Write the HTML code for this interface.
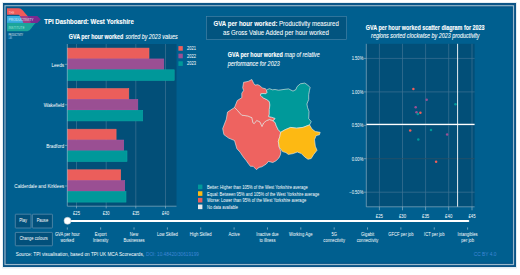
<!DOCTYPE html>
<html><head><meta charset="utf-8"><title>TPI Dashboard: West Yorkshire</title>
<style>
html,body{margin:0;padding:0;background:#ffffff;width:520px;height:275px;overflow:hidden}
svg{position:absolute;left:0;top:0;display:block}
text{font-family:"Liberation Sans", sans-serif}
</style></head><body>
<svg width="520" height="275" viewBox="0 0 520 275">
<rect x="2" y="2" width="515" height="266.5" fill="#e6eef3"/>
<rect x="3" y="3" width="513" height="264" fill="#0b5486"/>
<rect x="6" y="6" width="507" height="258" fill="#005f8f"/>
<rect x="5" y="5.75" width="508.5" height="258.75" fill="none" stroke="#9bb9cc" stroke-width="1.2"/>
<rect x="6.4" y="7.2" width="505.7" height="255.9" fill="none" stroke="#0b5486" stroke-width="0.9"/>
<path d="M7,8.3 H18.3 C21.3,8.3 22.8,10.2 24.3,12.2 L27.6,16 H20 C19.4,15.2 18.8,14.8 17.8,14.8 H7 Z" fill="#ef5a5a"/>
<rect x="7" y="16" width="18" height="6.9" fill="#3aaee0"/>
<path d="M20,16 H37.3 L40.8,19.45 L37.3,22.9 H23.8 Z" fill="#7b2a90"/>
<path d="M20,16 H27.6 L31,22.9 H23.8 Z" fill="#a23e86"/>
<path d="M7,23.1 H35.8 C32.5,25.5 30.5,31.2 27.3,31.2 H7 Z" fill="#1ba59b"/>
<text x="8.8" y="13.5" font-size="4.4" fill="#fcc8c0" textLength="5.6" lengthAdjust="spacingAndGlyphs" >THE</text>
<text x="8.5" y="21.1" font-size="4.3" fill="#d8eefa" textLength="25" lengthAdjust="spacingAndGlyphs" >PRODUCTIVITY</text>
<text x="8.5" y="29.2" font-size="4.3" fill="#9ce2d4" textLength="16.1" lengthAdjust="spacingAndGlyphs" >INSTITUTE</text>
<text x="8.5" y="35.9" font-size="3.0" fill="#e8eef2" textLength="14.6" lengthAdjust="spacingAndGlyphs" >PRODUCTIVITY</text>
<text x="8.5" y="39.0" font-size="2.6" fill="#8cc4ea" textLength="3.6" lengthAdjust="spacingAndGlyphs" >LAB</text>
<text x="44.3" y="23.6" font-size="7.1" font-weight="bold" fill="#ffffff" textLength="89.5" lengthAdjust="spacingAndGlyphs" stroke="#ffffff" stroke-width="0.12" >TPI Dashboard: West Yorkshire</text>
<rect x="206.5" y="16.5" width="140" height="23" fill="#02547f" stroke="#4f88aa" stroke-width="0.6"/>
<text x="213.5" y="25.8" font-size="6.9" font-weight="bold" fill="#ffffff" textLength="64" lengthAdjust="spacingAndGlyphs" stroke="#ffffff" stroke-width="0.06" >GVA per hour worked:</text>
<text x="279" y="25.8" font-size="6.9" fill="#ffffff" textLength="59.8" lengthAdjust="spacingAndGlyphs" stroke="#ffffff" stroke-width="0.06" >Productivity measured</text>
<text x="223" y="34.8" font-size="6.9" fill="#ffffff" textLength="105.8" lengthAdjust="spacingAndGlyphs" stroke="#ffffff" stroke-width="0.06" >as Gross Value Added per hour worked</text>
<text x="68.8" y="39.4" font-size="6.8" font-weight="bold" fill="#ffffff" textLength="54.5" lengthAdjust="spacingAndGlyphs" stroke="#ffffff" stroke-width="0.12" >GVA per hour worked</text>
<text x="125.4" y="39.4" font-size="6.6" font-style="italic" fill="#ffffff" textLength="52.3" lengthAdjust="spacingAndGlyphs" stroke="#ffffff" stroke-width="0.08" >sorted by 2023 values</text>
<rect x="67.3" y="44" width="109.2" height="162.2" fill="#024f78"/>
<line x1="76.5" y1="44" x2="76.5" y2="206.2" stroke="#3f7393" stroke-width="0.7"/>
<line x1="106.2" y1="44" x2="106.2" y2="206.2" stroke="#3f7393" stroke-width="0.7"/>
<line x1="135.8" y1="44" x2="135.8" y2="206.2" stroke="#3f7393" stroke-width="0.7"/>
<line x1="165.5" y1="44" x2="165.5" y2="206.2" stroke="#3f7393" stroke-width="0.7"/>
<rect x="67.3" y="48.10" width="81.70" height="10.6" fill="#eb5e5b" stroke="#f66a64" stroke-width="0.6"/>
<rect x="67.3" y="58.95" width="96.50" height="10.6" fill="#9a4f93" stroke="#ac56a2" stroke-width="0.6"/>
<rect x="67.3" y="69.80" width="106.90" height="10.6" fill="#00989a" stroke="#08a6a4" stroke-width="0.6"/>
<line x1="64.8" y1="64.3" x2="67.3" y2="64.3" stroke="#9fbccd" stroke-width="0.6"/>
<text x="64.2" y="66.7" font-size="5.31" text-anchor="end" fill="#ffffff" textLength="12.81" lengthAdjust="spacingAndGlyphs" >Leeds</text>
<rect x="67.3" y="88.60" width="61.50" height="10.6" fill="#eb5e5b" stroke="#f66a64" stroke-width="0.6"/>
<rect x="67.3" y="99.45" width="70.50" height="10.6" fill="#9a4f93" stroke="#ac56a2" stroke-width="0.6"/>
<rect x="67.3" y="110.30" width="75.40" height="10.6" fill="#00989a" stroke="#08a6a4" stroke-width="0.6"/>
<line x1="64.8" y1="104.8" x2="67.3" y2="104.8" stroke="#9fbccd" stroke-width="0.6"/>
<text x="64.2" y="107.2" font-size="5.31" text-anchor="end" fill="#ffffff" textLength="20.46" lengthAdjust="spacingAndGlyphs" >Wakefield</text>
<rect x="67.3" y="129.20" width="48.80" height="10.6" fill="#eb5e5b" stroke="#f66a64" stroke-width="0.6"/>
<rect x="67.3" y="140.05" width="56.40" height="10.6" fill="#9a4f93" stroke="#ac56a2" stroke-width="0.6"/>
<rect x="67.3" y="150.90" width="59.70" height="10.6" fill="#00989a" stroke="#08a6a4" stroke-width="0.6"/>
<line x1="64.8" y1="145.4" x2="67.3" y2="145.4" stroke="#9fbccd" stroke-width="0.6"/>
<text x="64.2" y="147.8" font-size="5.31" text-anchor="end" fill="#ffffff" textLength="18.03" lengthAdjust="spacingAndGlyphs" >Bradford</text>
<rect x="67.3" y="169.80" width="53.40" height="10.6" fill="#eb5e5b" stroke="#f66a64" stroke-width="0.6"/>
<rect x="67.3" y="180.65" width="57.40" height="10.6" fill="#9a4f93" stroke="#ac56a2" stroke-width="0.6"/>
<rect x="67.3" y="191.50" width="58.70" height="10.6" fill="#00989a" stroke="#08a6a4" stroke-width="0.6"/>
<line x1="64.8" y1="186.0" x2="67.3" y2="186.0" stroke="#9fbccd" stroke-width="0.6"/>
<text x="64.2" y="188.4" font-size="5.31" text-anchor="end" fill="#ffffff" textLength="49.9" lengthAdjust="spacingAndGlyphs" >Calderdale and Kirklees</text>
<line x1="67.3" y1="44" x2="67.3" y2="206.2" stroke="#9fbccd" stroke-width="0.6"/>
<line x1="67.3" y1="206.2" x2="176.5" y2="206.2" stroke="#9fbccd" stroke-width="0.6"/>
<line x1="76.5" y1="206.2" x2="76.5" y2="208.39999999999998" stroke="#9fbccd" stroke-width="0.6"/>
<text x="76.5" y="214.6" font-size="4.63" text-anchor="middle" fill="#ffffff" textLength="6.84" lengthAdjust="spacingAndGlyphs" >£25</text>
<line x1="106.2" y1="206.2" x2="106.2" y2="208.39999999999998" stroke="#9fbccd" stroke-width="0.6"/>
<text x="106.2" y="214.6" font-size="4.63" text-anchor="middle" fill="#ffffff" textLength="6.84" lengthAdjust="spacingAndGlyphs" >£30</text>
<line x1="135.8" y1="206.2" x2="135.8" y2="208.39999999999998" stroke="#9fbccd" stroke-width="0.6"/>
<text x="135.8" y="214.6" font-size="4.63" text-anchor="middle" fill="#ffffff" textLength="6.84" lengthAdjust="spacingAndGlyphs" >£35</text>
<line x1="165.5" y1="206.2" x2="165.5" y2="208.39999999999998" stroke="#9fbccd" stroke-width="0.6"/>
<text x="165.5" y="214.6" font-size="4.63" text-anchor="middle" fill="#ffffff" textLength="6.84" lengthAdjust="spacingAndGlyphs" >£40</text>
<rect x="178.4" y="46.1" width="4.4" height="4.6" fill="#ee5f5b"/>
<text x="187" y="50.0" font-size="4.75" fill="#ffffff" textLength="9" lengthAdjust="spacingAndGlyphs" >2021</text>
<rect x="178.4" y="53.7" width="4.4" height="4.6" fill="#9b5094"/>
<text x="187" y="57.6" font-size="4.75" fill="#ffffff" textLength="9" lengthAdjust="spacingAndGlyphs" >2022</text>
<rect x="178.4" y="61.3" width="4.4" height="4.6" fill="#00999a"/>
<text x="187" y="65.2" font-size="4.75" fill="#ffffff" textLength="9" lengthAdjust="spacingAndGlyphs" >2023</text>
<text x="227.8" y="57.3" font-size="6.7" font-weight="bold" fill="#ffffff" textLength="55" lengthAdjust="spacingAndGlyphs" stroke="#ffffff" stroke-width="0.12" >GVA per hour worked</text>
<text x="284.5" y="57.3" font-size="6.6" font-style="italic" fill="#ffffff" textLength="35.3" lengthAdjust="spacingAndGlyphs" stroke="#ffffff" stroke-width="0.08" >map of relative</text>
<text x="227.8" y="66.1" font-size="6.6" font-style="italic" fill="#ffffff" textLength="51.9" lengthAdjust="spacingAndGlyphs" stroke="#ffffff" stroke-width="0.08" >performance for 2023</text>
<polygon points="234.5,107.5 237.5,110.5 241.8,115.2 247.6,115.9 252,117.7 252.8,122.5 254.3,123.5 256.7,120.4 260,121.9 262,126.4 263.5,123 266.4,120.7 269.3,119.5 271.6,120.1 272.8,120.7 275.1,122.4 276.3,125.9 278,129.4 280.7,132.3 279.9,136.3 278.3,141.2 279.1,147 280.9,151.6 280.4,154.8 278.8,158.1 276,160.8 272.8,162.5 268.4,161.4 266.2,164.1 261.8,166.8 259.1,167.4 256.4,169.6 253.1,166.3 250.4,166.3 248.7,164.1 246,160.3 243.3,157 240,152.1 236.9,148.7 234.5,140.5 228.6,138.1 223.9,134.6 222.7,128.6 226.3,119.2 227.5,112.1" fill="#ee6360" stroke="#f4eee8" stroke-width="0.6" stroke-linejoin="round"/>
<polygon points="243.6,82.3 248.2,81.4 251.8,79.5 253.6,83.2 255,85.1 257.9,84.7 260.5,86.2 262.3,88 265.5,88.7 266.6,90.2 267,92.7 265.9,93.8 263,93.5 260.8,93.8 260.5,95.3 261.9,96.7 263.5,98 267,99.7 269.3,101.5 269.9,105 269.3,109.6 269.3,114.3 268.7,116.6 271.6,117.2 275.1,118.4 274,120.1 272.8,120.7 271.6,120.1 269.3,119.5 266.4,120.7 263.5,123 262,126.4 260,121.9 256.7,120.4 254.3,123.5 252.8,122.5 252,117.7 247.6,115.9 241.8,115.2 237.5,110.5 234.5,107.5 235.5,105 237.3,100.5 241.8,97.7 241.8,93.2 243.6,90.5 242.7,87.7" fill="#ee6360" stroke="#f4eee8" stroke-width="0.6" stroke-linejoin="round"/>
<polygon points="266.6,90.2 267.4,89.5 269.5,88.7 272.5,89.8 275,89.5 278.6,90.2 285,89.3 288.6,88.9 293,91.1 295.9,89.6 297,86.7 300.3,83.8 304.7,83.1 307.6,84.9 310.1,87.5 309.4,90.7 308.7,94.7 308.7,99.5 306.9,104 307.6,107.7 309,111.4 308.7,118.6 311.2,121.6 309.6,124.9 303,127.4 296.5,128.2 290.7,127.4 285,129.8 280.7,132.3 278,129.4 276.3,125.9 275.1,122.4 272.8,120.7 274,120.1 275.1,118.4 271.6,117.2 268.7,116.6 269.3,114.3 269.3,109.6 269.9,105 269.3,101.5 267,99.7 263.5,98 261.9,96.7 260.5,95.3 260.8,93.8 263,93.5 265.9,93.8 267,92.7" fill="#00999a" stroke="#f4eee8" stroke-width="0.6" stroke-linejoin="round"/>
<polygon points="280.7,132.3 285,129.8 290.7,127.4 296.5,128.2 303,127.4 309.6,124.9 312,129 315.3,131.5 320.2,132.3 319.4,134.8 316.1,135.6 314.5,139.7 315.3,146.2 317,150.3 313.7,154.4 311.2,158.5 308,159.3 304.7,156.9 301.4,153.6 297.3,152 293.2,153.6 288.3,154.4 285.9,152.6 282.6,151.6 279.3,147.2 278.3,141.2 279.9,136.3" fill="#fdb913" stroke="#f4eee8" stroke-width="0.6" stroke-linejoin="round"/>
<rect x="198" y="184.60" width="4.4" height="4.6" fill="#00999a"/>
<text x="207" y="189.0" font-size="4.58" fill="#ffffff" textLength="100.7" lengthAdjust="spacingAndGlyphs" >Better: Higher than 105% of the West Yorkshire average</text>
<rect x="198" y="191.25" width="4.4" height="4.6" fill="#fdb913"/>
<text x="207" y="195.65" font-size="4.58" fill="#ffffff" textLength="112.2" lengthAdjust="spacingAndGlyphs" >Equal: Between 95% and 105% of the West Yorkshire average</text>
<rect x="198" y="197.90" width="4.4" height="4.6" fill="#ee5f5b"/>
<text x="207" y="202.3" font-size="4.58" fill="#ffffff" textLength="99.2" lengthAdjust="spacingAndGlyphs" >Worse: Lower than 95% of the West Yorkshire average</text>
<rect x="198" y="204.55" width="4.4" height="4.6" fill="#e8e8ea"/>
<text x="207" y="208.95000000000002" font-size="4.58" fill="#ffffff" textLength="31" lengthAdjust="spacingAndGlyphs" >No data available</text>
<text x="365.8" y="29.5" font-size="6.6" font-weight="bold" fill="#ffffff" textLength="118.8" lengthAdjust="spacingAndGlyphs" stroke="#ffffff" stroke-width="0.12" >GVA per hour worked scatter diagram for 2023</text>
<text x="371.1" y="37.8" font-size="6.5" font-style="italic" fill="#ffffff" textLength="108.4" lengthAdjust="spacingAndGlyphs" stroke="#ffffff" stroke-width="0.08" >regions sorted clockwise by 2023 productivity</text>
<rect x="366.3" y="43.8" width="108.30000000000001" height="163.0" fill="#024f78"/>
<line x1="379.4" y1="43.8" x2="379.4" y2="206.8" stroke="#3f7393" stroke-width="0.7"/>
<line x1="402.5" y1="43.8" x2="402.5" y2="206.8" stroke="#3f7393" stroke-width="0.7"/>
<line x1="425.6" y1="43.8" x2="425.6" y2="206.8" stroke="#3f7393" stroke-width="0.7"/>
<line x1="448.7" y1="43.8" x2="448.7" y2="206.8" stroke="#3f7393" stroke-width="0.7"/>
<line x1="472.0" y1="43.8" x2="472.0" y2="206.8" stroke="#3f7393" stroke-width="0.7"/>
<line x1="366.3" y1="58.4" x2="474.6" y2="58.4" stroke="#3f7393" stroke-width="0.7"/>
<line x1="366.3" y1="91.9" x2="474.6" y2="91.9" stroke="#3f7393" stroke-width="0.7"/>
<line x1="366.3" y1="125.3" x2="474.6" y2="125.3" stroke="#3f7393" stroke-width="0.7"/>
<line x1="366.3" y1="158.7" x2="474.6" y2="158.7" stroke="#2b4f66" stroke-width="0.8"/>
<line x1="366.3" y1="192.2" x2="474.6" y2="192.2" stroke="#3f7393" stroke-width="0.7"/>
<line x1="366.3" y1="124.4" x2="474.6" y2="124.4" stroke="#ffffff" stroke-width="1.2"/>
<line x1="457.6" y1="43.8" x2="457.6" y2="206.8" stroke="#ffffff" stroke-opacity="0.9" stroke-width="1.0"/>
<line x1="366.3" y1="43.8" x2="366.3" y2="206.8" stroke="#9fbccd" stroke-width="0.6"/>
<line x1="366.3" y1="206.8" x2="474.6" y2="206.8" stroke="#9fbccd" stroke-width="0.6"/>
<line x1="363.8" y1="58.4" x2="366.3" y2="58.4" stroke="#9fbccd" stroke-width="0.6"/>
<text x="363.3" y="60.199999999999996" font-size="4.63" text-anchor="end" fill="#ffffff" textLength="11.63" lengthAdjust="spacingAndGlyphs" >1.50%</text>
<line x1="363.8" y1="91.9" x2="366.3" y2="91.9" stroke="#9fbccd" stroke-width="0.6"/>
<text x="363.3" y="93.7" font-size="4.63" text-anchor="end" fill="#ffffff" textLength="11.63" lengthAdjust="spacingAndGlyphs" >1.00%</text>
<line x1="363.8" y1="125.3" x2="366.3" y2="125.3" stroke="#9fbccd" stroke-width="0.6"/>
<text x="363.3" y="127.1" font-size="4.63" text-anchor="end" fill="#ffffff" textLength="11.63" lengthAdjust="spacingAndGlyphs" >0.50%</text>
<line x1="363.8" y1="158.7" x2="366.3" y2="158.7" stroke="#9fbccd" stroke-width="0.6"/>
<text x="363.3" y="160.5" font-size="4.63" text-anchor="end" fill="#ffffff" textLength="11.63" lengthAdjust="spacingAndGlyphs" >0.00%</text>
<line x1="363.8" y1="192.2" x2="366.3" y2="192.2" stroke="#9fbccd" stroke-width="0.6"/>
<text x="363.3" y="194.0" font-size="4.63" text-anchor="end" fill="#ffffff" textLength="14.02" lengthAdjust="spacingAndGlyphs" >−0.50%</text>
<line x1="379.4" y1="206.8" x2="379.4" y2="210.3" stroke="#9fbccd" stroke-width="0.6"/>
<text x="379.4" y="217.7" font-size="4.86" text-anchor="middle" fill="#ffffff" textLength="7.17" lengthAdjust="spacingAndGlyphs" >£25</text>
<line x1="402.5" y1="206.8" x2="402.5" y2="210.3" stroke="#9fbccd" stroke-width="0.6"/>
<text x="402.5" y="217.7" font-size="4.86" text-anchor="middle" fill="#ffffff" textLength="7.17" lengthAdjust="spacingAndGlyphs" >£30</text>
<line x1="425.6" y1="206.8" x2="425.6" y2="210.3" stroke="#9fbccd" stroke-width="0.6"/>
<text x="425.6" y="217.7" font-size="4.86" text-anchor="middle" fill="#ffffff" textLength="7.17" lengthAdjust="spacingAndGlyphs" >£35</text>
<line x1="448.7" y1="206.8" x2="448.7" y2="210.3" stroke="#9fbccd" stroke-width="0.6"/>
<text x="448.7" y="217.7" font-size="4.86" text-anchor="middle" fill="#ffffff" textLength="7.17" lengthAdjust="spacingAndGlyphs" >£40</text>
<line x1="472.0" y1="206.8" x2="472.0" y2="210.3" stroke="#9fbccd" stroke-width="0.6"/>
<text x="472.0" y="217.7" font-size="4.86" text-anchor="middle" fill="#ffffff" textLength="7.17" lengthAdjust="spacingAndGlyphs" >£45</text>
<circle cx="413.4" cy="88.9" r="1.25" fill="#ee5f5b"/>
<circle cx="415.7" cy="107.3" r="1.25" fill="#9b5094"/>
<circle cx="426.7" cy="99.7" r="1.25" fill="#9b5094"/>
<circle cx="455.5" cy="104.2" r="1.25" fill="#00999a"/>
<circle cx="416.5" cy="112.3" r="1.25" fill="#9b5094"/>
<circle cx="417.8" cy="114.1" r="1.25" fill="#00999a"/>
<circle cx="420.4" cy="112.8" r="1.25" fill="#ee5f5b"/>
<circle cx="410.2" cy="130.6" r="1.25" fill="#ee5f5b"/>
<circle cx="431" cy="129.9" r="1.25" fill="#00999a"/>
<circle cx="447.1" cy="134.4" r="1.25" fill="#9b5094"/>
<circle cx="418.3" cy="139.5" r="1.25" fill="#00999a"/>
<circle cx="436.1" cy="161.7" r="1.25" fill="#ee5f5b"/>
<line x1="67.1" y1="221" x2="468.3" y2="221" stroke="#ffffff" stroke-width="2" stroke-linecap="round"/>
<circle cx="67.5" cy="220.8" r="3.5" fill="#ffffff" stroke="#b9c7d0" stroke-width="0.6"/>
<line x1="67.30" y1="227.4" x2="67.30" y2="229.6" stroke="#dfe8ee" stroke-width="0.5"/>
<text x="67.30" y="235.9" font-size="4.69" text-anchor="middle" fill="#ffffff" textLength="24.84" lengthAdjust="spacingAndGlyphs" >GVA per hour</text>
<text x="67.30" y="242.0" font-size="4.69" text-anchor="middle" fill="#ffffff" textLength="13.38" lengthAdjust="spacingAndGlyphs" >worked</text>
<line x1="100.66" y1="227.4" x2="100.66" y2="229.6" stroke="#dfe8ee" stroke-width="0.5"/>
<text x="100.66" y="235.9" font-size="4.69" text-anchor="middle" fill="#ffffff" textLength="11.99" lengthAdjust="spacingAndGlyphs" >Export</text>
<text x="100.66" y="242.0" font-size="4.69" text-anchor="middle" fill="#ffffff" textLength="15.46" lengthAdjust="spacingAndGlyphs" >Intensity</text>
<line x1="134.02" y1="227.4" x2="134.02" y2="229.6" stroke="#dfe8ee" stroke-width="0.5"/>
<text x="134.02" y="235.9" font-size="4.69" text-anchor="middle" fill="#ffffff" textLength="8.3" lengthAdjust="spacingAndGlyphs" >New</text>
<text x="134.02" y="242.0" font-size="4.69" text-anchor="middle" fill="#ffffff" textLength="21.22" lengthAdjust="spacingAndGlyphs" >Businesses</text>
<line x1="167.38" y1="227.4" x2="167.38" y2="229.6" stroke="#dfe8ee" stroke-width="0.5"/>
<text x="167.38" y="235.9" font-size="4.69" text-anchor="middle" fill="#ffffff" textLength="20.99" lengthAdjust="spacingAndGlyphs" >Low Skilled</text>
<line x1="200.74" y1="227.4" x2="200.74" y2="229.6" stroke="#dfe8ee" stroke-width="0.5"/>
<text x="200.74" y="235.9" font-size="4.69" text-anchor="middle" fill="#ffffff" textLength="21.91" lengthAdjust="spacingAndGlyphs" >High Skilled</text>
<line x1="234.10" y1="227.4" x2="234.10" y2="229.6" stroke="#dfe8ee" stroke-width="0.5"/>
<text x="234.10" y="235.9" font-size="4.69" text-anchor="middle" fill="#ffffff" textLength="11.3" lengthAdjust="spacingAndGlyphs" >Active</text>
<line x1="267.46" y1="227.4" x2="267.46" y2="229.6" stroke="#dfe8ee" stroke-width="0.5"/>
<text x="267.46" y="235.9" font-size="4.69" text-anchor="middle" fill="#ffffff" textLength="22.38" lengthAdjust="spacingAndGlyphs" >Inactive due</text>
<text x="267.46" y="242.0" font-size="4.69" text-anchor="middle" fill="#ffffff" textLength="16.15" lengthAdjust="spacingAndGlyphs" >to illness</text>
<line x1="300.82" y1="227.4" x2="300.82" y2="229.6" stroke="#dfe8ee" stroke-width="0.5"/>
<text x="300.82" y="235.9" font-size="4.69" text-anchor="middle" fill="#ffffff" textLength="23.45" lengthAdjust="spacingAndGlyphs" >Working Age</text>
<line x1="334.18" y1="227.4" x2="334.18" y2="229.6" stroke="#dfe8ee" stroke-width="0.5"/>
<text x="334.18" y="235.9" font-size="4.69" text-anchor="middle" fill="#ffffff" textLength="5.54" lengthAdjust="spacingAndGlyphs" >5G</text>
<text x="334.18" y="242.0" font-size="4.69" text-anchor="middle" fill="#ffffff" textLength="21.68" lengthAdjust="spacingAndGlyphs" >connectivity</text>
<line x1="367.54" y1="227.4" x2="367.54" y2="229.6" stroke="#dfe8ee" stroke-width="0.5"/>
<text x="367.54" y="235.9" font-size="4.69" text-anchor="middle" fill="#ffffff" textLength="13.15" lengthAdjust="spacingAndGlyphs" >Gigabit</text>
<text x="367.54" y="242.0" font-size="4.69" text-anchor="middle" fill="#ffffff" textLength="21.68" lengthAdjust="spacingAndGlyphs" >connectivity</text>
<line x1="400.90" y1="227.4" x2="400.90" y2="229.6" stroke="#dfe8ee" stroke-width="0.5"/>
<text x="400.90" y="235.9" font-size="4.69" text-anchor="middle" fill="#ffffff" textLength="25.14" lengthAdjust="spacingAndGlyphs" >GFCF per job</text>
<line x1="434.26" y1="227.4" x2="434.26" y2="229.6" stroke="#dfe8ee" stroke-width="0.5"/>
<text x="434.26" y="235.9" font-size="4.69" text-anchor="middle" fill="#ffffff" textLength="20.45" lengthAdjust="spacingAndGlyphs" >ICT per job</text>
<line x1="467.62" y1="227.4" x2="467.62" y2="229.6" stroke="#dfe8ee" stroke-width="0.5"/>
<text x="467.62" y="235.9" font-size="4.69" text-anchor="middle" fill="#ffffff" textLength="20.07" lengthAdjust="spacingAndGlyphs" >Intangibles</text>
<text x="467.62" y="242.0" font-size="4.69" text-anchor="middle" fill="#ffffff" textLength="12.69" lengthAdjust="spacingAndGlyphs" >per job</text>
<rect x="15.3" y="214.2" width="15.7" height="13.800000000000011" rx="0.5" fill="#02507b" stroke="#5a8cab" stroke-width="0.8"/>
<text x="23.1" y="222.3" font-size="4.58" text-anchor="middle" fill="#ffffff" textLength="7.88" lengthAdjust="spacingAndGlyphs" >Play</text>
<rect x="32.4" y="214.2" width="20.0" height="13.800000000000011" rx="0.5" fill="#02507b" stroke="#5a8cab" stroke-width="0.8"/>
<text x="42.4" y="222.3" font-size="4.58" text-anchor="middle" fill="#ffffff" textLength="11.48" lengthAdjust="spacingAndGlyphs" >Pause</text>
<rect x="15.3" y="232.4" width="37.099999999999994" height="13.400000000000006" rx="0.5" fill="#02507b" stroke="#5a8cab" stroke-width="0.8"/>
<text x="33.6" y="240.4" font-size="4.58" text-anchor="middle" fill="#ffffff" textLength="28.37" lengthAdjust="spacingAndGlyphs" >Change colours</text>
<text x="15.8" y="255.9" font-size="5.31" fill="#ffffff" textLength="128.3" lengthAdjust="spacingAndGlyphs" >Source: TPI visualisation, based on TPI UK MCA Scorecards,</text>
<text x="146" y="255.9" font-size="5.31" fill="#3f86d6" textLength="53" lengthAdjust="spacingAndGlyphs" >DOI: 10.48420/30619199</text>
<text x="473.8" y="255.9" font-size="5.31" fill="#3f86d6" textLength="22.7" lengthAdjust="spacingAndGlyphs" >CC BY 4.0</text>
</svg>
</body></html>
